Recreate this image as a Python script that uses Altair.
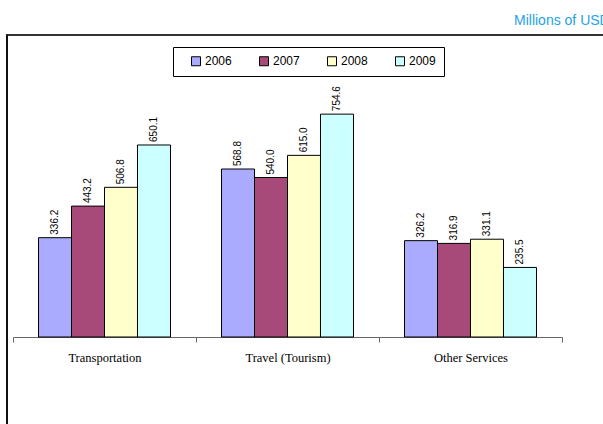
import altair as alt
import pandas as pd

categories = ["Transportation", "Travel (Tourism)", "Other Services"]
years = ["2006", "2007", "2008", "2009"]
values_2006 = [336.2, 568.8, 326.2]
values_2007 = [443.2, 540.0, 316.9]
values_2008 = [506.8, 615.0, 331.1]
values_2009 = [650.1, 754.6, 235.5]
year_colors = ["#aaaaff", "#a84a79", "#ffffcc", "#ccffff"]

rows = []
for year, vals in zip(years, [values_2006, values_2007, values_2008, values_2009]):
    for cat, v in zip(categories, vals):
        rows.append({"category": cat, "year": year, "value": v, "label": f"{v:.1f}"})
df = pd.DataFrame(rows)
one = pd.DataFrame({"k": [0]})

x_enc = alt.X(
    "category:N",
    sort=categories,
    title=None,
    scale=alt.Scale(range=[13, 562], paddingInner=0, paddingOuter=0),
    axis=alt.Axis(
        labelAngle=0,
        labelFont="Liberation Serif",
        labelFontSize=12.5,
        labelColor="black",
        tickBand="extent",
        domainColor="#666666",
        tickColor="#666666",
        tickSize=5,
        labelPadding=9,
        grid=False,
    ),
)
xoff_enc = alt.XOffset("year:N", sort=years, scale=alt.Scale(paddingInner=0, paddingOuter=0.773))
y_enc = alt.Y("value:Q", scale=alt.Scale(domain=[0, 1141], nice=False), axis=None)

bars = alt.Chart(df).mark_bar(stroke="black", strokeWidth=1).encode(
    x=x_enc,
    xOffset=xoff_enc,
    y=y_enc,
    color=alt.Color(
        "year:N",
        scale=alt.Scale(domain=years, range=year_colors),
        legend=alt.Legend(
            orient="none",
            legendX=173,
            legendY=47,
            direction="horizontal",
            title=None,
            strokeColor="black",
            fillColor="white",
            padding=8,
            symbolType="square",
            symbolSize=81,
            symbolStrokeColor="black",
            symbolStrokeWidth=1,
            symbolOpacity=1,
            symbolOffset=9,
            labelOffset=3,
            labelFont="Liberation Sans",
            labelFontSize=12,
            labelColor="black",
            columnPadding=17,
        ),
    ),
)

value_labels = alt.Chart(df).mark_text(
    angle=270, align="left", baseline="middle", dx=3,
    font="Liberation Sans", fontSize=10, color="black",
).encode(x=x_enc, xOffset=xoff_enc, y=y_enc, text="label:N")

frame_top = alt.Chart(one).mark_rule(color="#333333", strokeWidth=2).encode(
    x=alt.value(6), x2=alt.value(603), y=alt.value(35)
)
frame_left = alt.Chart(one).mark_rule(color="#111111", strokeWidth=2).encode(
    x=alt.value(7), y=alt.value(35), y2=alt.value(424)
)
units = alt.Chart(one).mark_text(
    text="Millions of USD", align="left", baseline="alphabetic",
    font="Liberation Sans", fontSize=14, color="#1fa2e8",
).encode(x=alt.value(514), y=alt.value(25))

chart = alt.layer(frame_top, frame_left, units, bars, value_labels).properties(
    width=603,
    height=337,
    autosize=alt.AutoSizeParams(type="none"),
    padding={"left": 0, "top": 0, "right": 0, "bottom": 87},
    background="white",
).configure_view(stroke=None)

chart.save("out.html", embed_options={"renderer": "svg", "actions": False})
